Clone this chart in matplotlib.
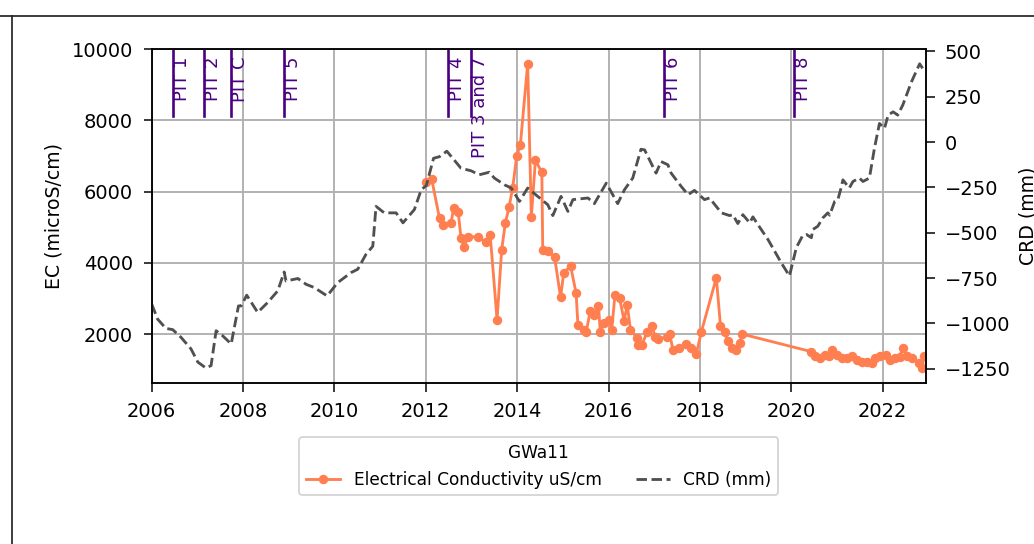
import numpy as np
import matplotlib
matplotlib.use("Agg")
import matplotlib.pyplot as plt
from matplotlib.lines import Line2D

# CRD (mm), decimal years
crd_year = [2006.00, 2006.13, 2006.31, 2006.46, 2006.64, 2006.86, 2007.01, 2007.19, 2007.30,
            2007.41, 2007.55, 2007.74, 2007.90, 2007.96, 2008.08, 2008.32, 2008.54, 2008.76,
            2008.90, 2008.94, 2009.20, 2009.38, 2009.56, 2009.84, 2010.07, 2010.36, 2010.51,
            2010.69, 2010.84, 2010.91, 2011.09, 2011.35, 2011.50, 2011.75, 2011.90, 2012.01,
            2012.17, 2012.30, 2012.46, 2012.59, 2012.77, 2012.99, 2013.17, 2013.39, 2013.50,
            2013.72, 2013.87, 2014.05, 2014.23, 2014.45, 2014.67, 2014.78, 2014.96, 2015.11,
            2015.22, 2015.55, 2015.69, 2015.95, 2016.20, 2016.35, 2016.53, 2016.71, 2016.79,
            2017.04, 2017.15, 2017.30, 2017.37, 2017.59, 2017.74, 2017.88, 2018.10, 2018.21,
            2018.47, 2018.65, 2018.72, 2018.83, 2018.94, 2019.09, 2019.16, 2019.27, 2019.49,
            2019.78, 2019.96, 2020.11, 2020.25, 2020.33, 2020.44, 2020.47, 2020.58, 2020.69,
            2020.80, 2020.84, 2020.95, 2021.02, 2021.09, 2021.13, 2021.27, 2021.35, 2021.49,
            2021.57, 2021.71, 2021.82, 2021.93, 2022.04, 2022.12, 2022.23, 2022.33, 2022.44,
            2022.63, 2022.81, 2022.88]
crd_mm = [-893, -976, -1027, -1034, -1076, -1140, -1213, -1246, -1232,
          -1040, -1067, -1113, -903, -903, -844, -939, -884, -820,
          -716, -766, -752, -784, -802, -848, -775, -720, -701,
          -619, -574, -354, -390, -390, -445, -372, -262, -240,
          -89, -80, -50, -89, -144, -158, -180, -166, -198,
          -235, -253, -327, -253, -299, -345, -405, -299, -382,
          -317, -308, -339, -226, -339, -262, -198, -39, -43,
          -171, -107, -125, -171, -244, -290, -266, -317, -308,
          -390, -405, -400, -449, -400, -445, -412, -455, -537,
          -665, -738, -582, -515, -509, -527, -482, -464, -418,
          -390, -403, -327, -317, -253, -208, -253, -217, -198,
          -217, -198, -34, 103, 76, 149, 167, 149, 204,
          332, 432, 405]

# Electrical conductivity (uS/cm)
ec_year = [2012.01, 2012.13, 2012.30, 2012.37, 2012.55, 2012.61, 2012.71, 2012.77, 2012.84,
           2012.92, 2013.14, 2013.32, 2013.41, 2013.56, 2013.66, 2013.74, 2013.82, 2013.90,
           2013.99, 2014.07, 2014.23, 2014.31, 2014.40, 2014.54, 2014.56, 2014.67, 2014.82,
           2014.95, 2015.02, 2015.17, 2015.29, 2015.33, 2015.46, 2015.51, 2015.60, 2015.69,
           2015.78, 2015.82, 2015.90, 2016.02, 2016.07, 2016.14, 2016.24, 2016.34, 2016.41,
           2016.48, 2016.63, 2016.65, 2016.73, 2016.85, 2016.95, 2017.02, 2017.09, 2017.28,
           2017.34, 2017.41, 2017.55, 2017.70, 2017.81, 2017.92, 2018.03, 2018.36, 2018.45,
           2018.54, 2018.61, 2018.70, 2018.79, 2018.87, 2018.93, 2020.43, 2020.52, 2020.63,
           2020.74, 2020.82, 2020.89, 2021.01, 2021.11, 2021.22, 2021.33, 2021.44, 2021.55,
           2021.66, 2021.77, 2021.84, 2021.95, 2022.08, 2022.17, 2022.28, 2022.37, 2022.44,
           2022.53, 2022.64, 2022.79, 2022.86, 2022.91]
ec_us = [6272, 6347, 5247, 5059, 5107, 5527, 5432, 4686, 4451,
         4731, 4731, 4574, 4779, 2398, 4359, 5107, 5555, 6087,
         7000, 7319, 9588, 5291, 6880, 6540, 4359, 4339, 4154,
         3034, 3723, 3911, 3146, 2258, 2118, 2054, 2650, 2538,
         2799, 2054, 2306, 2398, 2118, 3098, 3023, 2379, 2818,
         2118, 1886, 1698, 1698, 2071, 2230, 1913, 1857, 1931,
         1990, 1558, 1605, 1726, 1605, 1446, 2054, 3583, 2230,
         2054, 1810, 1605, 1558, 1746, 1998, 1510, 1390, 1325,
         1418, 1390, 1539, 1418, 1325, 1325, 1390, 1259, 1202,
         1202, 1185, 1325, 1371, 1418, 1259, 1325, 1352, 1605,
         1390, 1325, 1185, 1045, 1390]

# pit events
pit_year = [2006.47, 2007.15, 2007.74, 2008.90, 2012.48, 2012.99, 2017.22, 2020.05]
pit_label = ["PIT 1", "PIT 2", "PIT C", "PIT 5", "PIT 4", "PIT 3 and 7", "PIT 6", "PIT 8"]

plt.rcParams.update({"xtick.major.size": 4.5, "ytick.major.size": 4.5,
                     "xtick.major.pad": 5.5, "ytick.major.pad": 5.5,
                     "xtick.labelsize": 10.3, "ytick.labelsize": 10.3})

DPI = 136
fig = plt.figure(figsize=(1034 / DPI, 544 / DPI), dpi=DPI)
ax = fig.add_axes([0.1467, 0.2954, 0.8956 - 0.1467, 0.9107 - 0.2954])
ax2 = ax.twinx()

l1, = ax.plot(ec_year, ec_us, color="#FF7F50", marker="o", ms=4, lw=1.5,
              label="Electrical Conductivity uS/cm")
l2, = ax2.plot(crd_year, crd_mm, color="#505050", ls="--", lw=1.5, label="CRD (mm)")

for yr, lab in zip(pit_year, pit_label):
    ax.axvline(yr, ymin=0.8, ymax=1.0, color="indigo", lw=1.4)
    ax.text(yr, 0.975, lab, rotation=90, ha="left", va="top", color="indigo",
            fontsize=9.5, transform=ax.get_xaxis_transform())

ax.set_xlim(2006, 2022.95)
ax.set_xticks(np.arange(2006, 2023, 2))
ax.set_xticklabels([str(y) for y in range(2006, 2023, 2)])
ax.grid(True, color="#b0b0b0", lw=1.0)
ax.set_ylabel("EC (microS/cm)")
ax2.set_ylabel("CRD (mm)")

ax.legend(handles=[l1, l2], loc="upper center", bbox_to_anchor=(0.5, -0.136), ncol=2,
          title="GWa11", fontsize=9, title_fontsize=9)

# notebook cell border
fig.add_artist(Line2D([0, 1], [1 - 16 / 544, 1 - 16 / 544], transform=fig.transFigure,
                      color="#222222", lw=0.9))
fig.add_artist(Line2D([12 / 1034, 12 / 1034], [0, 1 - 16 / 544], transform=fig.transFigure,
                      color="#222222", lw=0.9))

fig.savefig("out.png", dpi=DPI)
